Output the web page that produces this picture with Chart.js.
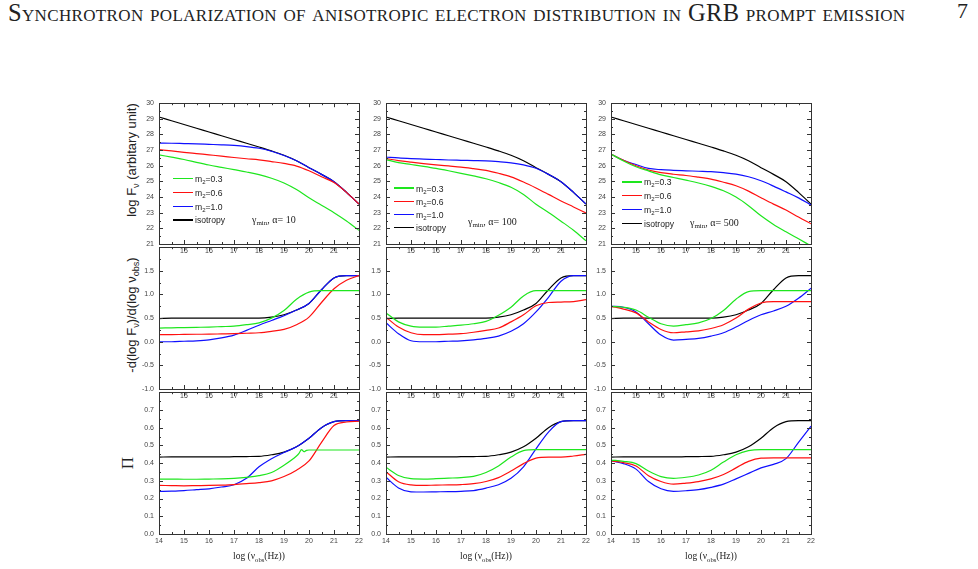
<!DOCTYPE html>
<html>
<head>
<meta charset="utf-8">
<script src="https://cdn.jsdelivr.net/npm/chart.js@4.4.0/dist/chart.umd.min.js"></script>
<style>
body{margin:0;background:#fff;width:978px;height:569px;overflow:hidden;position:relative;font-family:'Liberation Sans',Arial,sans-serif;color:#222}
canvas{position:absolute}
.t{position:absolute;white-space:nowrap;line-height:1}
.rot{transform:translate(-50%,-50%) rotate(-90deg)}
.serif{font-family:'Liberation Serif','Times New Roman',serif}
.leg{position:absolute;font-size:8.6px;line-height:1;white-space:nowrap}
.leg span.ln{display:inline-block;width:20px;height:1.5px;vertical-align:middle;margin-right:2px;position:relative;top:-1px}
sub{font-size:70%;line-height:0;vertical-align:-0.35em}
</style>
</head>
<body>
<div id="head" class="t serif" style="left:8px;top:1px;font-size:24.5px;letter-spacing:0.35px;font-variant:small-caps">Synchrotron polarization of anisotropic electron distribution in GRB prompt emission</div>
<div class="t serif" style="left:957px;top:0px;font-size:22px">7</div>

<div class="t rot" style="left:131px;top:160px;font-size:13px">log F<sub>ν</sub> (arbitary unit)</div>
<div class="t rot" style="left:131px;top:315px;font-size:13px">-d(log F<sub>ν</sub>)/d(log ν<sub>obs</sub>)</div>
<div class="t rot serif" style="left:127px;top:463px;font-size:17px">Π</div>

<script>
// frequency grid, log(nu_obs / Hz)
const nu = [14, 14.5, 15, 15.5, 16, 16.5, 17, 17.5, 18, 18.5, 19, 19.5, 20, 20.5, 21, 21.5, 22];

// log F_nu, isotropy and m2 = 0.3 / 0.6 / 1.0
const fIso    = [29.12, 28.88, 28.64, 28.4, 28.16, 27.92, 27.68, 27.44, 27.2, 26.95, 26.67, 26.32, 25.88, 25.45, 24.98, 24.3, 23.55];
const f10m03  = [26.7, 26.55, 26.4, 26.22, 26.05, 25.9, 25.75, 25.6, 25.43, 25.2, 24.9, 24.48, 23.95, 23.48, 23.0, 22.47, 21.87];
const f10m06  = [27.03, 26.95, 26.86, 26.78, 26.7, 26.62, 26.53, 26.45, 26.38, 26.27, 26.15, 25.98, 25.68, 25.3, 24.93, 24.3, 23.55];
const f10m10  = [27.45, 27.44, 27.42, 27.4, 27.37, 27.34, 27.3, 27.23, 27.12, 26.93, 26.66, 26.32, 25.88, 25.45, 24.98, 24.3, 23.55];
const f100m03 = [26.4, 26.2, 26.08, 25.96, 25.83, 25.68, 25.52, 25.35, 25.17, 24.93, 24.63, 24.17, 23.54, 23.02, 22.46, 21.88, 21.2];
const f100m06 = [26.46, 26.33, 26.23, 26.14, 26.06, 25.99, 25.92, 25.82, 25.71, 25.52, 25.29, 24.96, 24.58, 24.17, 23.75, 23.37, 22.98];
const f100m10 = [26.56, 26.5, 26.46, 26.43, 26.4, 26.37, 26.35, 26.33, 26.31, 26.26, 26.19, 26.06, 25.84, 25.45, 24.98, 24.3, 23.55];
const f500m03 = [26.75, 26.31, 25.94, 25.67, 25.42, 25.25, 25.08, 24.9, 24.68, 24.4, 24.0, 23.45, 22.8, 22.25, 21.78, 21.33, 20.88];
const f500m06 = [26.75, 26.35, 26.0, 25.73, 25.56, 25.46, 25.38, 25.27, 25.15, 24.95, 24.72, 24.38, 23.96, 23.55, 23.17, 22.72, 22.29];
const f500m10 = [26.75, 26.35, 26.08, 25.83, 25.75, 25.71, 25.68, 25.65, 25.62, 25.56, 25.47, 25.3, 25.04, 24.7, 24.33, 23.95, 23.5];

// -d(log F)/d(log nu)
const sIso    = [0.49, 0.5, 0.5, 0.5, 0.5, 0.5, 0.5, 0.5, 0.5, 0.52, 0.57, 0.67, 0.81, 1.1, 1.35, 1.4, 1.4];
const s10m03  = [0.29, 0.295, 0.3, 0.305, 0.31, 0.32, 0.33, 0.36, 0.4, 0.5, 0.66, 0.9, 1.05, 1.08, 1.08, 1.08, 1.08];
const s10m06  = [0.15, 0.15, 0.155, 0.158, 0.16, 0.165, 0.17, 0.18, 0.19, 0.22, 0.26, 0.36, 0.52, 0.83, 1.12, 1.3, 1.4];
const s10m10  = [0.0, 0.0, 0.01, 0.02, 0.04, 0.08, 0.14, 0.24, 0.35, 0.45, 0.55, 0.67, 0.81, 1.1, 1.35, 1.4, 1.4];
const s100m03 = [0.61, 0.42, 0.33, 0.31, 0.31, 0.33, 0.35, 0.38, 0.43, 0.56, 0.73, 0.97, 1.08, 1.08, 1.08, 1.08, 1.08];
const s100m06 = [0.52, 0.31, 0.19, 0.15, 0.15, 0.16, 0.17, 0.2, 0.24, 0.29, 0.42, 0.57, 0.76, 0.83, 0.84, 0.85, 0.89];
const s100m10 = [0.4, 0.17, 0.02, 0.0, 0.0, 0.01, 0.02, 0.04, 0.07, 0.12, 0.22, 0.38, 0.63, 0.94, 1.28, 1.4, 1.4];
const s500m03 = [0.75, 0.73, 0.67, 0.52, 0.38, 0.33, 0.36, 0.4, 0.49, 0.66, 0.9, 1.06, 1.08, 1.08, 1.08, 1.08, 1.08];
const s500m06 = [0.75, 0.69, 0.61, 0.42, 0.26, 0.19, 0.21, 0.23, 0.28, 0.36, 0.5, 0.69, 0.82, 0.85, 0.85, 0.85, 0.85];
const s500m10 = [0.75, 0.73, 0.63, 0.38, 0.14, 0.035, 0.05, 0.07, 0.12, 0.19, 0.31, 0.45, 0.57, 0.65, 0.75, 0.92, 1.13];

// polarization degree Pi
const pIso    = [0.434, 0.435, 0.435, 0.435, 0.435, 0.435, 0.436, 0.437, 0.438, 0.447, 0.462, 0.492, 0.54, 0.6, 0.634, 0.64, 0.64];
const p10m03  = [0.31, 0.31, 0.309, 0.309, 0.31, 0.311, 0.314, 0.32, 0.329, 0.347, 0.388, 0.44, 0.474, 0.474, 0.474, 0.474, 0.474];
const nuKink  = [19.6, 19.7, 19.8, 19.9];
const p10m03Kink = [0.455, 0.476, 0.464, 0.472];
const p10m06  = [0.274, 0.273, 0.272, 0.273, 0.274, 0.276, 0.279, 0.284, 0.29, 0.3, 0.324, 0.36, 0.412, 0.517, 0.612, 0.632, 0.636];
const p10m10  = [0.24, 0.242, 0.245, 0.25, 0.255, 0.265, 0.278, 0.314, 0.379, 0.425, 0.46, 0.492, 0.54, 0.6, 0.634, 0.64, 0.64];
const p100m03 = [0.376, 0.33, 0.312, 0.31, 0.312, 0.315, 0.318, 0.325, 0.347, 0.384, 0.434, 0.47, 0.476, 0.476, 0.476, 0.476, 0.476];
const p100m06 = [0.352, 0.295, 0.277, 0.274, 0.276, 0.277, 0.279, 0.284, 0.296, 0.318, 0.355, 0.397, 0.428, 0.434, 0.434, 0.44, 0.449];
const p100m10 = [0.32, 0.26, 0.238, 0.237, 0.238, 0.239, 0.241, 0.245, 0.259, 0.278, 0.314, 0.379, 0.48, 0.575, 0.634, 0.64, 0.64];
const p500m03 = [0.417, 0.41, 0.397, 0.355, 0.324, 0.314, 0.32, 0.333, 0.36, 0.406, 0.447, 0.47, 0.476, 0.476, 0.476, 0.476, 0.476];
const p500m06 = [0.412, 0.403, 0.384, 0.329, 0.296, 0.281, 0.287, 0.296, 0.311, 0.336, 0.373, 0.41, 0.428, 0.43, 0.43, 0.43, 0.43];
const p500m10 = [0.412, 0.397, 0.366, 0.296, 0.255, 0.241, 0.244, 0.25, 0.263, 0.281, 0.311, 0.342, 0.373, 0.393, 0.425, 0.517, 0.608];

// axis ranges [min, max, label step, minor step]
const xRange = [14, 22, 1, 0.5];
const fluxRange = [21, 30, 1, 0.5];
const slopeRange = [-1, 2, 0.5, 0.25];
const piRange = [0, 0.8, 0.1, 0.05];

const legendLabels = ['m<sub>2</sub>=0.3', 'm<sub>2</sub>=0.6', 'm<sub>2</sub>=1.0', 'isotropy'];
const alphas = [10, 100, 500];
const colors = ['#1ee61e', '#ff1010', '#1010ff', '#000000'];

const colLeft = [159, 386, 611];
const rowTop = [100, 244, 389];
const rowH = [144, 145, 145];
const plotW = 200;
const padL = 34, padT = 6, padR = 8, padB = 15;
const family = "'Liberation Sans', Arial, sans-serif";

function pts(xs, ys) {
    return xs.map((x, i) => ({x: x, y: ys[i]}));
}

const frame = {
    id: 'frame',
    afterDatasetsDraw(chart) {
        const {ctx, chartArea: a, scales: {x, y}} = chart;
        const yr = chart.options.yRange;
        ctx.save();
        ctx.strokeStyle = '#333';
        ctx.lineWidth = 1;
        ctx.strokeRect(Math.round(a.left) + 0.5, Math.round(a.top) + 0.5, Math.round(a.right - a.left), Math.round(a.bottom - a.top));
        ctx.beginPath();
        for (let v = xRange[0]; v <= xRange[1] + 1e-9; v += xRange[3]) {
            let px = Math.round(x.getPixelForValue(v)) + 0.5;
            let len = Math.abs(v - Math.round(v / xRange[2]) * xRange[2]) < 1e-6 ? 4 : 2;
            ctx.moveTo(px, a.bottom); ctx.lineTo(px, a.bottom - len);
            ctx.moveTo(px, a.top); ctx.lineTo(px, a.top + len);
        }
        for (let k = 0; yr[0] + k * yr[3] <= yr[1] + 1e-9; k++) {
            let v = yr[0] + k * yr[3];
            let py = Math.round(y.getPixelForValue(v)) + 0.5;
            let len = k % 2 == 0 ? 4 : 2;
            ctx.moveTo(a.left, py); ctx.lineTo(a.left + len, py);
            ctx.moveTo(a.right, py); ctx.lineTo(a.right - len, py);
        }
        ctx.stroke();
        ctx.restore();
    }
};

function panel(col, row, series, yr, digits) {
    let c = document.createElement('canvas');
    let w = padL + plotW + padR, h = padT + rowH[row] + padB;
    c.width = w; c.height = h;
    c.style.left = (colLeft[col] - padL) + 'px';
    c.style.top = (rowTop[row] - padT) + 'px';
    document.body.appendChild(c);

    let datasets = series.map((s, i) => ({
        data: s,
        borderColor: colors[i],
        borderWidth: 1.2,
        pointRadius: 0,
        fill: false,
        cubicInterpolationMode: 'monotone'
    }));

    new Chart(c.getContext('2d'), {
        type: 'line',
        data: {datasets: datasets},
        options: {
            responsive: false,
            animation: false,
            devicePixelRatio: 1,
            yRange: yr,
            layout: {padding: {top: padT, right: padR, left: 0, bottom: 0}},
            plugins: {legend: {display: false}, tooltip: {enabled: false}},
            scales: {
                x: {
                    type: 'linear', min: xRange[0], max: xRange[1],
                    afterFit: s => { s.height = padB; },
                    grid: {display: false, drawTicks: false}, border: {display: false},
                    ticks: {
                        stepSize: xRange[2], padding: 3, maxRotation: 0, autoSkip: false,
                        color: '#444', font: {size: 7, family: family},
                        callback: v => (row < 2 && (v == xRange[0] || v == xRange[1])) ? '' : v
                    }
                },
                y: {
                    type: 'linear', min: yr[0], max: yr[1],
                    afterFit: s => { s.width = padL; },
                    grid: {display: false, drawTicks: false}, border: {display: false},
                    ticks: {
                        stepSize: yr[2], padding: 5, autoSkip: false,
                        color: '#444', font: {size: 7, family: family},
                        callback: v => (row > 0 && Math.abs(v - yr[1]) < 1e-6) ? '' : v.toFixed(digits)
                    }
                }
            }
        },
        plugins: [frame]
    });
}

const p10m03Line = pts(nu, p10m03).concat(pts(nuKink, p10m03Kink)).sort((a, b) => a.x - b.x);

panel(0, 0, [pts(nu, f10m03), pts(nu, f10m06), pts(nu, f10m10), pts(nu, fIso)], fluxRange, 0);
panel(1, 0, [pts(nu, f100m03), pts(nu, f100m06), pts(nu, f100m10), pts(nu, fIso)], fluxRange, 0);
panel(2, 0, [pts(nu, f500m03), pts(nu, f500m06), pts(nu, f500m10), pts(nu, fIso)], fluxRange, 0);
panel(0, 1, [pts(nu, s10m03), pts(nu, s10m06), pts(nu, s10m10), pts(nu, sIso)], slopeRange, 1);
panel(1, 1, [pts(nu, s100m03), pts(nu, s100m06), pts(nu, s100m10), pts(nu, sIso)], slopeRange, 1);
panel(2, 1, [pts(nu, s500m03), pts(nu, s500m06), pts(nu, s500m10), pts(nu, sIso)], slopeRange, 1);
panel(0, 2, [p10m03Line, pts(nu, p10m06), pts(nu, p10m10), pts(nu, pIso)], piRange, 1);
panel(1, 2, [pts(nu, p100m03), pts(nu, p100m06), pts(nu, p100m10), pts(nu, pIso)], piRange, 1);
panel(2, 2, [pts(nu, p500m03), pts(nu, p500m06), pts(nu, p500m10), pts(nu, pIso)], piRange, 1);

// legends inside the flux panels
const legPos = [[173, 179.5, 13.8, 252, 221], [394, 189, 13.1, 468, 223], [622, 182.7, 13.8, 690, 224]];
legPos.forEach((p, col) => {
    legendLabels.forEach((lab, i) => {
        let d = document.createElement('div');
        d.className = 'leg';
        d.style.left = p[0] + 'px';
        d.style.top = (p[1] + i * p[2] - 4.5) + 'px';
        d.innerHTML = '<span class="ln" style="background:' + colors[i] + '"></span>' + lab;
        document.body.appendChild(d);
    });
    let g = document.createElement('div');
    g.className = 't serif';
    g.style.left = p[3] + 'px';
    g.style.top = (p[4] - 6) + 'px';
    g.style.fontSize = '10px';
    g.innerHTML = 'γ<sub>min</sub>, α= ' + alphas[col];
    document.body.appendChild(g);

    let xt = document.createElement('div');
    xt.className = 't serif';
    xt.style.left = (colLeft[col] + plotW / 2) + 'px';
    xt.style.top = '557px';
    xt.style.transform = 'translate(-50%,-50%)';
    xt.style.fontSize = '9.5px';
    xt.innerHTML = 'log (ν<sub>obs</sub>(Hz))';
    document.body.appendChild(xt);
});
</script>
</body>
</html>
